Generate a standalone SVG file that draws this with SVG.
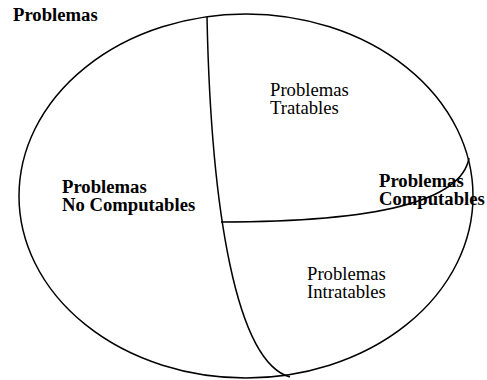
<svg xmlns="http://www.w3.org/2000/svg" width="487" height="380" viewBox="0 0 487 380">
<style>
.ln{fill:none;stroke:#000;stroke-width:1.5}
.t{font-family:"Liberation Serif","Times New Roman",serif;font-size:18.67px;fill:#000}
.b{font-weight:bold}
</style>
<rect width="487" height="380" fill="#fff"/>
<g id="connectors">
<ellipse class="ln" cx="246" cy="196" rx="227" ry="182"/>
<path class="ln" d="M207,17 C211,210 236,362 290,377"/>
<path class="ln" d="M221,222 C340,222 460,210 469,158"/>
</g>
<g id="problemas"><text class="t b" x="13" y="21">Problemas</text></g>
<g id="no-computables"><text class="t b" x="62" y="193">Problemas</text><text class="t b" x="62" y="211">No Computables</text></g>
<g id="tratables"><text class="t" x="270" y="96">Problemas</text><text class="t" x="270" y="114">Tratables</text></g>
<g id="computables"><text class="t b" x="379" y="187">Problemas</text><text class="t b" x="379" y="205">Computables</text></g>
<g id="intratables"><text class="t" x="307" y="280">Problemas</text><text class="t" x="307" y="298">Intratables</text></g>
</svg>
